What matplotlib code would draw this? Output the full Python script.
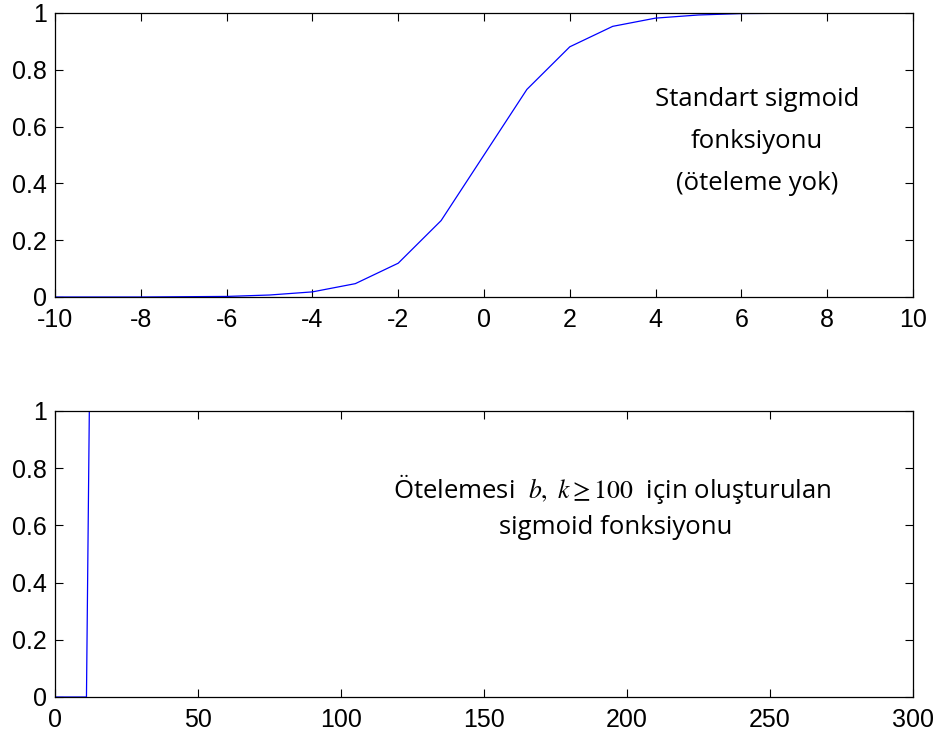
import matplotlib
matplotlib.use("Agg")
import matplotlib.pyplot as plt

plt.rcParams["font.family"] = ["Liberation Sans", "DejaVu Sans"]
plt.rcParams["mathtext.fontset"] = "stix"

# Standard sigmoid sampled at integer points
x_std = list(range(-10, 11))
y_std = [0.000, 0.000, 0.000, 0.001, 0.002, 0.007, 0.018, 0.047, 0.119, 0.269,
         0.500, 0.731, 0.881, 0.953, 0.982, 0.993, 0.998, 0.999, 1.000, 1.000, 1.000]

# Shifted, very steep sigmoid (step near x = 11..12)
x_shift = [0, 11, 12, 300]
y_shift = [0.0, 0.0, 1.0, 1.0]

top_xticks = list(range(-10, 11, 2))
bot_xticks = list(range(0, 301, 50))
yticks = [0, 0.2, 0.4, 0.6, 0.8, 1]
ytick_labels = ["0", "0.2", "0.4", "0.6", "0.8", "1"]

fig = plt.figure(figsize=(9.43, 7.36), dpi=100)
ax1 = fig.add_axes([55/943, 1 - 297/736, 858/943, 284/736])
ax2 = fig.add_axes([55/943, 1 - 697/736, 858/943, 286/736])

ax1.plot(x_std, y_std, color="blue", lw=0.9)
ax1.set_xlim(-10, 10)
ax1.set_xticks(top_xticks)
ax1.set_xticklabels([str(v) for v in top_xticks])

ax2.plot(x_shift, y_shift, color="blue", lw=0.9)
ax2.set_xlim(0, 300)
ax2.set_xticks(bot_xticks)
ax2.set_xticklabels([str(v) for v in bot_xticks])

for ax in (ax1, ax2):
    ax.set_ylim(0, 1)
    ax.set_yticks(yticks)
    ax.set_yticklabels(ytick_labels)
    ax.tick_params(direction="in", top=True, right=True, length=6,
                   width=0.8, labelsize=18, pad=6)
    ax.tick_params(axis="x", pad=8)
    for s in ax.spines.values():
        s.set_linewidth(0.9)

note_font = ["Open Sans", "DejaVu Sans"]
fs = 18.5
ax1.text(6.36, 0.694, "Standart sigmoid", ha="center", va="center",
         fontsize=fs, family=note_font)
ax1.text(6.36, 0.549, "fonksiyonu", ha="center", va="center",
         fontsize=fs, family=note_font)
ax1.text(6.36, 0.401, "(öteleme yok)", ha="center", va="center",
         fontsize=fs, family=note_font)

ax2.text(195, 0.727, r"Ötelemesi  $b,\ k \geq 100$  için oluşturulan",
         ha="center", va="center", fontsize=fs, family=note_font)
ax2.text(196, 0.591, "sigmoid fonksiyonu", ha="center", va="center",
         fontsize=fs, family=note_font)

fig.savefig("out.png", dpi=100)
